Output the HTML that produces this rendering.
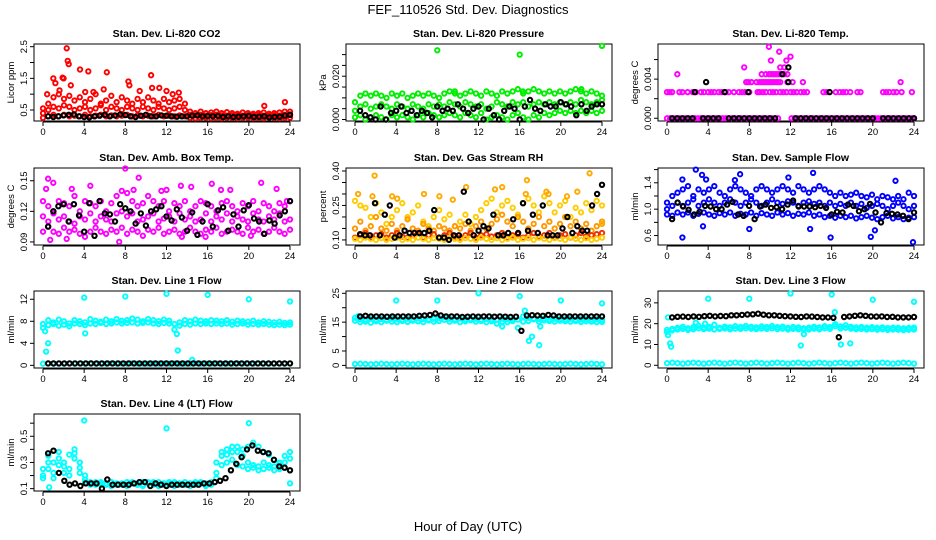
<!DOCTYPE html>
<html><head><meta charset="utf-8"><style>
html,body{margin:0;padding:0;background:#fff;}
svg{display:block;font-family:"Liberation Sans",Arial,sans-serif;}
</style></head><body>
<svg id="chart" width="936" height="540" viewBox="0 0 936 540">
<text x="468" y="14" text-anchor="middle" font-size="13">FEF_110526  Std. Dev. Diagnostics</text>
<text x="468" y="531" text-anchor="middle" font-size="13">Hour of Day (UTC)</text>
</svg>
<script>
// ---------- DATA ----------
const xTicks = [0,4,8,12,16,20,24];
const panelTitles = ["Stan. Dev. Li-820 CO2","Stan. Dev. Li-820 Pressure","Stan. Dev. Li-820 Temp.","Stan. Dev. Amb. Box Temp.","Stan. Dev. Gas Stream RH","Stan. Dev. Sample Flow","Stan. Dev. Line 1 Flow","Stan. Dev. Line 2 Flow","Stan. Dev. Line 3 Flow","Stan. Dev. Line 4 (LT) Flow"];
const yTitles = ["Licor ppm","kPa","degrees C","degrees C","percent","ml/min","ml/min","ml/min","ml/min","ml/min"];
const yRanges = [[0.153,2.585],[-0.0007,0.0349],[-0.00028,0.00759],[0.087,0.1625],[0.078,0.413],[0.457,1.624],[-0.48,13.5],[-0.9,25.8],[-1.3,35.7],[0.082,0.67]];
const yTickVals = [[0.5,1,1.5,2,2.5],[0,0.005,0.01,0.015,0.02,0.025,0.03],[0,0.002,0.004,0.006],[0.09,0.12,0.15],[0.1,0.15,0.2,0.25,0.3,0.35,0.4],[0.6,0.8,1.0,1.2,1.4,1.6],[0,4,8,12],[0,5,10,15,20,25],[0,10,20,30],[0.1,0.2,0.3,0.4,0.5,0.6]];
const yTickLabels = [["0.5","","1.5","","2.5"],["0.000","","","","0.020","",""],["0.000","","0.004",""],["0.09","0.12","0.15"],["0.10","","","0.25","","","0.40"],["0.6","","1.0","","1.4",""],["0","4","8","12"],["0","5","","15","","25"],["0","10","20","30"],["0.1","","0.3","","0.5",""]];

const co2Hi=[0.55,0.7,0.9,1.0,0.85,0.95,0.8,0.9,0.75,0.85,1.0,0.7,0.8,0.95,0.75,0.9,0.8,0.7,0.85,0.75,0.9,0.8,0.7,0.85,0.75,0.8,0.85,0.7,0.45,0.4,0.45,0.4,0.42,0.45,0.4,0.43,0.4,0.38,0.42,0.4,0.38,0.4,0.42,0.38,0.4,0.42,0.45,0.45];
const co2Mid=[0.4,0.5,0.6,0.55,0.65,0.6,0.5,0.55,0.6,0.5,0.55,0.65,0.5,0.6,0.55,0.5,0.6,0.55,0.5,0.6,0.55,0.5,0.6,0.55,0.5,0.55,0.6,0.5,0.35,0.33,0.35,0.32,0.34,0.35,0.33,0.32,0.34,0.33,0.32,0.34,0.33,0.35,0.32,0.33,0.34,0.32,0.35,0.36];
const co2Lo=[0.25,0.3,0.35,0.3,0.35,0.3,0.32,0.3,0.35,0.3,0.32,0.35,0.3,0.33,0.3,0.32,0.35,0.3,0.33,0.3,0.32,0.3,0.35,0.3,0.32,0.3,0.33,0.3,0.25,0.24,0.25,0.26,0.24,0.25,0.24,0.26,0.25,0.24,0.25,0.26,0.24,0.25,0.24,0.26,0.25,0.24,0.25,0.26];
const co2OutH=[2.3,2.4,2.5,1.9,2,3.6,4.4,6.2,1,1.2,0.4,1.6,2.7,8.3,8.4,10.5,10.6,11.3,9.4,12,12.6,13.2,5.9,21.5,23.5,4.9,4.1];
const co2OutV=[2.45,2.05,1.95,1.52,1.5,1.78,1.72,1.69,1.5,1.35,1.0,1.12,1.28,1.4,1.28,1.6,1.2,1.2,1.1,1.1,1.0,1.05,1.15,0.63,0.75,1.07,1.07];
const co2Mean=[0.3,0.28,0.3,0.33,0.35,0.36,0.3,0.28,0.27,0.3,0.32,0.35,0.3,0.33,0.36,0.34,0.3,0.28,0.32,0.35,0.3,0.3,0.33,0.32,0.3,0.29,0.3,0.3,0.32,0.33,0.3,0.31,0.3,0.31,0.28,0.3,0.28,0.29,0.3,0.31,0.28,0.29,0.3,0.27,0.28,0.29,0.32,0.35];
const presHi=[0.008,0.011,0.012,0.011,0.012,0.011,0.010,0.012,0.011,0.012,0.010,0.011,0.012,0.011,0.012,0.011,0.010,0.012,0.013,0.012,0.011,0.012,0.013,0.012,0.011,0.013,0.012,0.011,0.013,0.012,0.013,0.014,0.012,0.013,0.014,0.013,0.012,0.013,0.012,0.013,0.012,0.013,0.014,0.013,0.012,0.013,0.012,0.011];
const presMid=[0.004,0.006,0.007,0.005,0.006,0.007,0.006,0.005,0.007,0.006,0.005,0.007,0.006,0.005,0.007,0.006,0.007,0.006,0.008,0.007,0.006,0.008,0.007,0.006,0.007,0.005,0.006,0.008,0.007,0.006,0.008,0.007,0.008,0.006,0.007,0.008,0.007,0.008,0.007,0.008,0.007,0.008,0.007,0.009,0.008,0.007,0.008,0.009];
const presLo=[0.001,0.002,0.0,0.001,0.002,0.001,0.0,0.002,0.001,0.002,0.001,0.0,0.002,0.001,0.003,0.002,0.001,0.002,0.003,0.002,0.001,0.003,0.002,0.001,0.003,0.0,0.001,0.002,0.001,0.0,0.002,0.003,0.001,0.0,0.002,0.001,0.003,0.002,0.003,0.004,0.003,0.004,0.003,0.004,0.003,0.004,0.003,0.004];
const presOutH=[8,16,24,9.7,16.3,22];
const presOutV=[0.032,0.030,0.034,0.013,0.013,0.014];
const presMean=[0.004,0.002,0.001,0.0,0.006,0.0,0.003,0.004,0.006,0.003,0.004,0.002,0.004,0.003,0.001,0.006,0.004,0.005,0.004,0.007,0.005,0.003,0.005,0.006,0.0,0.005,0.002,0.0,0.004,0.006,0.005,0.0,0.006,0.009,0.005,0.004,0.007,0.006,0.006,0.008,0.007,0.006,0.002,0.007,0.004,0.006,0.007,0.007];
const tempZeroH=[0,0.3,0.6,0.9,1.2,1.5,1.8,2.1,2.4,2.7,3,3.3,3.6,3.9,4.2,4.5,4.8,5.1,5.4,5.7,6,6.3,6.6,6.9,7.2,7.5,7.8,8.1,8.4,8.7,9,9.3,9.6,9.9,10.2,10.5,10.8,12.1,12.4,12.7,13,13.3,13.6,13.9,14.2,14.5,14.8,15.1,15.4,15.7,16,16.3,16.6,16.9,17.2,17.5,17.8,18.1,18.4,18.7,19,19.3,19.6,19.9,20.2,20.5,20.8,21.1,21.4,21.7,22,22.3,22.6,22.9,23.2,23.5,23.8,24];
const tempLvlAH=[0,0.25,0.5,1.2,1.5,2,2.5,2.8,3.3,3.6,4,4.3,4.6,5,5.3,5.7,6,6.5,7,7.3,7.6,8,8.8,9,9.3,9.6,10,10.3,10.6,11,11.3,11.6,12,12.3,12.6,13,13.3,13.6,15.2,15.5,16.4,16.8,17.1,17.4,17.8,18.5,18.8,21,21.3,21.6,22,22.3,22.8,23.8];
const tempLvlBH=[7.7,7.9,8.2,8.7,9,9.2,9.4,9.6,9.8,10,10.2,10.4,10.6,10.8,11,11.7,12.2,13.2,22.7];
const tempLvlCH=[9.2,9.6,9.9,10.1,10.3,10.5,10.7,10.9,11.1,11.4,11.7];
const tempLevels=[0.0,0.00267,0.0037,0.0045];
const tempOutH=[1,7.5,11,11.4,10.1,11.6,10.9,9.9,12];
const tempOutV=[0.0045,0.0052,0.0052,0.0052,0.0059,0.0059,0.0068,0.0073,0.0063];
const tempMeanH=[0.5,1,1.5,2,2.5,3.5,4,4.5,5,6,6.5,7,7.5,8,8.5,9,9.5,10,10.5,12.5,13,13.5,14,14.5,15,15.5,16,16.5,17,17.5,18,18.5,19,19.5,20,21,21.5,22,22.5,23,23.5,24,3.8,2.7,5.6,7.9,11.2,11.8,11.8,15.8];
const tempMeanV=[0,0,0,0,0,0,0,0,0,0,0,0,0,0,0,0,0,0,0,0,0,0,0,0,0,0,0,0,0,0,0,0,0,0,0,0,0,0,0,0,0,0,0.0037,0.00267,0.00267,0.00267,0.0045,0.0037,0.0052,0.00267];
const abHi=[0.13,0.125,0.12,0.13,0.128,0.125,0.135,0.12,0.13,0.128,0.125,0.13,0.12,0.128,0.135,0.14,0.138,0.13,0.125,0.128,0.135,0.13,0.125,0.13,0.12,0.128,0.125,0.13,0.12,0.125,0.13,0.128,0.125,0.12,0.128,0.13,0.125,0.12,0.128,0.125,0.13,0.12,0.128,0.125,0.12,0.128,0.125,0.13];
const abMid=[0.115,0.11,0.118,0.112,0.115,0.11,0.108,0.115,0.112,0.118,0.11,0.115,0.112,0.11,0.118,0.12,0.115,0.118,0.11,0.112,0.115,0.118,0.11,0.113,0.115,0.11,0.118,0.112,0.115,0.11,0.112,0.118,0.11,0.115,0.112,0.118,0.11,0.115,0.112,0.11,0.118,0.112,0.11,0.115,0.112,0.118,0.11,0.112];
const abLo=[0.1,0.105,0.1,0.098,0.104,0.1,0.102,0.098,0.095,0.1,0.104,0.1,0.098,0.102,0.1,0.104,0.098,0.102,0.1,0.096,0.102,0.1,0.104,0.098,0.1,0.102,0.098,0.1,0.104,0.1,0.098,0.102,0.1,0.104,0.098,0.1,0.102,0.1,0.098,0.104,0.1,0.102,0.098,0.1,0.104,0.1,0.098,0.102];
const abOutH=[0.3,0.5,1,0.7,2.3,2.8,4.6,7.4,8,8.8,9.3,11.5,12,13.4,14.4,16.4,17.3,18.2,21.2,22.7,13.5,15.8,20.2,23.7];
const abOutV=[0.142,0.152,0.148,0.092,0.093,0.142,0.145,0.09,0.162,0.141,0.153,0.14,0.141,0.145,0.144,0.147,0.141,0.141,0.148,0.142,0.095,0.095,0.096,0.13];
const abMean=[0.105,0.12,0.125,0.127,0.11,0.127,0.116,0.1,0.128,0.096,0.13,0.118,0.117,0.11,0.127,0.123,0.12,0.108,0.118,0.106,0.12,0.122,0.125,0.115,0.111,0.122,0.114,0.101,0.119,0.097,0.11,0.127,0.105,0.121,0.124,0.101,0.117,0.105,0.121,0.126,0.113,0.11,0.098,0.111,0.108,0.116,0.12,0.13];
const rhLo=[0.11,0.12,0.13,0.11,0.12,0.125,0.11,0.12,0.13,0.115,0.11,0.12,0.13,0.11,0.12,0.125,0.11,0.12,0.13,0.115,0.11,0.12,0.13,0.11,0.12,0.125,0.115,0.12,0.13,0.11,0.12,0.125,0.11,0.12,0.13,0.115,0.12,0.13,0.11,0.12,0.125,0.11,0.12,0.13,0.115,0.12,0.125,0.13];
const rhLo2=[0.105,0.1,0.11,0.105,0.1,0.108,0.1,0.105,0.11,0.1,0.105,0.1,0.11,0.105,0.1,0.108,0.105,0.1,0.11,0.105,0.1,0.108,0.105,0.1,0.11,0.105,0.1,0.108,0.1,0.105,0.11,0.1,0.105,0.108,0.1,0.11,0.105,0.1,0.108,0.105,0.1,0.11,0.105,0.1,0.108,0.1,0.105,0.11];
const rhHi=[0.27,0.25,0.24,0.2,0.26,0.22,0.17,0.2,0.23,0.26,0.2,0.22,0.25,0.18,0.16,0.2,0.23,0.19,0.21,0.16,0.18,0.21,0.17,0.2,0.23,0.26,0.28,0.22,0.25,0.27,0.24,0.21,0.26,0.28,0.25,0.22,0.29,0.26,0.22,0.25,0.27,0.2,0.24,0.22,0.26,0.23,0.27,0.25];
const rhMid=[0.15,0.18,0.14,0.16,0.2,0.15,0.14,0.17,0.14,0.16,0.19,0.15,0.14,0.17,0.15,0.14,0.16,0.15,0.14,0.16,0.15,0.17,0.14,0.16,0.18,0.15,0.17,0.19,0.21,0.18,0.16,0.2,0.18,0.15,0.17,0.2,0.16,0.18,0.15,0.17,0.2,0.16,0.18,0.15,0.17,0.14,0.16,0.18];
const rhOutH=[0.3,1.7,1.9,3.6,4.1,6.7,8.2,9.5,10.8,13.6,14.3,16.7,16.6,18.6,18.8,20.6,21.6,22.8,24];
const rhOutV=[0.3,0.29,0.38,0.29,0.28,0.3,0.29,0.275,0.33,0.32,0.33,0.36,0.3,0.31,0.3,0.29,0.31,0.39,0.17];
const rhMean=[0.125,0.12,0.12,0.26,0.12,0.21,0.25,0.11,0.12,0.14,0.13,0.13,0.13,0.13,0.14,0.23,0.11,0.11,0.1,0.12,0.12,0.31,0.18,0.12,0.14,0.16,0.15,0.21,0.12,0.12,0.13,0.19,0.13,0.26,0.14,0.21,0.13,0.25,0.12,0.12,0.12,0.15,0.2,0.13,0.16,0.14,0.14,0.25,0.3,0.34];
const sfHi=[1.1,1.2,1.25,1.3,1.35,1.2,1.3,1.25,1.3,1.35,1.25,1.2,1.3,1.35,1.3,1.25,1.2,1.3,1.35,1.3,1.25,1.3,1.35,1.3,1.25,1.35,1.3,1.25,1.3,1.35,1.3,1.25,1.2,1.25,1.2,1.22,1.25,1.2,1.18,1.22,1.15,1.2,1.18,1.15,1.2,1.15,1.25,1.2];
const sfMid=[1.0,1.05,1.1,1.05,1.1,1.15,1.05,1.1,1.15,1.1,1.05,1.1,1.15,1.1,1.05,1.1,1.15,1.1,1.05,1.1,1.15,1.1,1.08,1.12,1.1,1.05,1.1,1.12,1.08,1.1,1.05,1.1,1.05,1.08,1.05,1.1,1.05,1.08,1.02,1.05,1.08,1.05,1.0,1.05,1.1,1.05,1.0,1.05];
const sfLo=[0.92,0.9,0.95,0.92,0.95,0.9,0.93,0.95,0.92,0.9,0.94,0.92,0.95,0.9,0.93,0.92,0.95,0.9,0.94,0.92,0.9,0.95,0.92,0.94,0.9,0.93,0.92,0.95,0.9,0.92,0.88,0.9,0.87,0.9,0.88,0.9,0.86,0.88,0.9,0.87,0.85,0.88,0.9,0.86,0.88,0.85,0.87,0.88];
const sfOutH=[1.5,1.5,2.8,3.5,3.4,3.8,7.1,6.6,8,11.8,13.9,14.2,15.9,20.2,22.2,23.9,19.8];
const sfOutV=[0.57,1.45,1.6,0.74,1.52,1.45,1.53,1.44,0.7,1.48,0.7,1.55,0.57,0.68,1.43,0.5,0.58];
const sfMean=[0.85,1.1,1.04,0.99,0.92,0.96,1.05,1.04,1.0,1.0,1.07,1.11,0.92,0.9,1.05,0.85,1.04,1.07,1.02,1.03,1.0,1.07,1.13,1.04,1.04,1.04,1.03,1.05,1.02,0.92,0.96,0.95,1.07,1.05,0.97,1.0,1.08,0.95,0.8,0.94,0.93,0.92,0.9,0.85,0.95];
const l1Band=[7.5,8.2,7.8,8.3,8,7.6,8.2,8,7.8,8.4,8.1,7.9,8.3,8,8.4,8.1,8.2,8.5,8.3,8,8.4,8.2,8,8.3,8.1,7.5,7.8,8.2,8,8.3,8.1,8,8.2,8.1,8,8.2,7.9,8.1,8,7.9,8.1,7.8,8,7.9,7.8,7.9,7.7,7.8];
const l1Band2=[6.8,7.3,7.5,7.2,7.4,7.1,7.6,7.5,7.3,7.6,7.5,7.7,7.5,7.6,7.8,7.6,7.7,7.8,7.6,7.7,7.8,7.6,7.5,7.7,7.6,6.5,7.2,7.5,7.4,7.6,7.5,7.6,7.5,7.6,7.5,7.6,7.4,7.5,7.6,7.4,7.5,7.4,7.5,7.4,7.3,7.4,7.3,7.4];
const l1Base=[0.3,0.35,0.3,0.32,0.3,0.35,0.3,0.33,0.3,0.35,0.3,0.32,0.3,0.35,0.3,0.33,0.3,0.35,0.3,0.32,0.3,0.35,0.3,0.33,0.3,0.35,0.3,0.32,0.3,0.35,0.3,0.33,0.3,0.35,0.3,0.32,0.3,0.35,0.3,0.33,0.3,0.35,0.3,0.32,0.3,0.35,0.3,0.33];
const l1OutH=[0.2,0.5,0.3,4,8,12,16,20,24,4.1,13,13.1,14.5];
const l1OutV=[6.2,4,2.5,12.3,12.5,13,12.8,12,11.6,5.8,5.7,2.7,1];
const l1Mean=[0.35,0.35,0.35,0.35,0.35,0.35,0.35,0.35,0.35,0.35,0.35,0.35,0.35,0.35,0.35,0.35,0.35,0.35,0.35,0.35,0.35,0.35,0.35,0.35,0.35,0.35,0.35,0.35,0.35,0.35,0.35,0.35,0.35,0.35,0.35,0.35,0.35,0.35,0.35,0.35,0.35,0.35,0.35,0.35,0.35,0.35];
const l2Band=[15.5,15,15.2,14.8,15.3,15,15.5,15.2,15,15.4,15.1,15.5,15.3,15,15.6,15.2,15.4,15.8,15.2,15.5,15,15.3,15.6,15.2,15.4,15,15.3,14.5,15.2,15,15.4,13,15.2,15.4,16,15.2,15.6,15.4,15.2,15.5,15.3,15.2,15.4,15.1,15.3,15.2,15,15.1];
const l2Band2=[16.5,16,15.8,16.2,15.9,16.1,15.8,16.2,16,15.9,16.2,16,16.3,16.1,15.9,16.2,16.4,16.8,16.2,16,16.3,16,16.1,16.2,15.9,16.1,16,15.8,16.2,16,16.1,15.9,17,16.5,16.2,16.1,16.3,16,16.2,16.1,16,16.2,15.9,16,16.1,15.9,16,15.8];
const l2Base=[0.5,0.6,0.5,0.4,0.5,0.6,0.5,0.4,0.5,0.6,0.5,0.4,0.5,0.6,0.5,0.4,0.5,0.6,0.5,0.4,0.5,0.6,0.5,0.4,0.5,0.6,0.5,0.4,0.5,0.6,0.5,0.4,0.5,0.6,0.5,0.4,0.5,0.6,0.5,0.4,0.5,0.6,0.5,0.4,0.5,0.6,0.5,0.4];
const l2OutH=[4,8,12,16,20,24,16.9,17.2,17.9,18,14.3,16.5,0.3];
const l2OutV=[22.5,22.5,25,24,22.5,21.5,8.5,10,7,13.5,13.5,19,17];
const l2Mean=[17,17.2,17,17,17,16.9,17,17,17,17,17,17.2,17.3,17.5,18,17.3,17,17,17,16.8,16.9,17,16.9,17,17,16.9,17,16.9,16.8,16.9,12,17.3,17.4,17.3,17.2,17.5,17.3,17,17,17,17,17,17,17,17,17];
const l3Band=[16,17.5,18,18.5,17.8,18.3,19,18.2,18.5,19.5,18,18.6,18.2,18.8,18.4,18.9,18.5,18.2,18.7,18.4,18.9,18.3,18.6,18,18.4,18.2,17.8,18.1,18.5,18.2,18.8,18.4,19.8,18.7,19.2,18.5,18.2,18.4,18.1,18.3,18,18.2,17.9,18.1,18,17.8,18,18.1];
const l3Band2=[17,16.8,17.2,17.5,17,17.3,17.8,17.4,17.6,17.2,17.5,17.7,17.3,17.6,17.5,17.8,17.6,17.4,17.7,17.5,17.8,17.4,17.6,17.2,17.5,17.3,17,17.2,17.6,17.3,17.8,17.5,18.8,17.7,18,17.6,17.3,17.5,17.2,17.4,17.1,17.3,17,17.2,17.1,16.9,17.1,17.2];
const l3Base=[1,1.3,1,0.8,1,1.3,1,0.8,1,1.3,1,0.8,1,1.3,1,0.8,1,1.3,1,0.8,1,1.3,1,0.8,1,1.3,1,0.8,1,1.3,1,0.8,1,1.3,1,0.8,1,1.3,1,0.8,1,1.3,1,0.8,1,1.3,1,0.8];
const l3OutH=[0.1,0.3,0.4,0.1,4,8,12,16,20,24,13,13.3,16.9,17.8,16.3,3.7,2.8];
const l3OutV=[14.5,10.5,9,23,32,32,34.5,34,31.5,30.5,9.5,15,10,10.5,25.5,20,20.5];
const l3Mean=[23,23.3,23.4,23.2,23.5,23.3,23.6,23.8,23.5,23.7,23.6,24,24,24.2,24.4,24.5,24.8,24.3,24,24,23.8,23.6,23.5,23.3,23.2,23.5,23.4,23.2,23,23,22.8,13.5,23.2,23.5,23.8,24,23.8,23.5,23.4,23.5,23.2,23.3,23,23,23,23.2];
const l4A=[0.25,0.35,0.3,0.38,0.22,0.36,0.4,0.3,0.2,0.15,0.14,0.15,0.14,0.15,0.13,0.14,0.15,0.14,0.13,0.15,0.14,0.15,0.13,0.14,0.15,0.14,0.13,0.15,0.14,0.15,0.14,0.13,0.15,0.22,0.35,0.4,0.42,0.38,0.4,0.42,0.45,0.42,0.38,0.36,0.32,0.3,0.35,0.33];
const l4B=[0.2,0.25,0.18,0.28,0.3,0.25,0.33,0.22,0.17,0.13,0.13,0.14,0.13,0.12,0.14,0.13,0.12,0.14,0.13,0.12,0.14,0.13,0.12,0.14,0.13,0.12,0.14,0.13,0.12,0.13,0.14,0.12,0.14,0.18,0.28,0.3,0.32,0.28,0.27,0.25,0.26,0.24,0.25,0.26,0.24,0.25,0.26,0.24];
const l4C=[0.18,0.3,0.22,0.33,0.27,0.2,0.37,0.26,0.15,0.14,0.15,0.13,0.14,0.15,0.13,0.14,0.13,0.15,0.14,0.13,0.15,0.14,0.15,0.13,0.14,0.15,0.14,0.13,0.14,0.14,0.15,0.14,0.13,0.3,0.38,0.36,0.38,0.42,0.35,0.3,0.28,0.27,0.3,0.28,0.27,0.29,0.3,0.38];
const l4OutH=[4,12,20,24,0.6];
const l4OutV=[0.62,0.56,0.6,0.14,0.11];
const l4Mean=[0.37,0.39,0.22,0.16,0.13,0.14,0.12,0.14,0.14,0.14,0.10,0.17,0.13,0.13,0.13,0.13,0.14,0.15,0.15,0.12,0.14,0.13,0.12,0.13,0.13,0.13,0.13,0.13,0.13,0.14,0.14,0.15,0.16,0.18,0.24,0.29,0.34,0.40,0.43,0.39,0.38,0.37,0.32,0.27,0.26,0.24];

// ---------- LAYOUT ----------
const NS="http://www.w3.org/2000/svg";
const svg=document.getElementById('chart');
const colX0=[43,355,667], SPAN=247, rowTop=[44,168,291,414], BOXH=77;
function mk(tag,attrs,parent){const e=document.createElementNS(NS,tag);for(const k in attrs)e.setAttribute(k,attrs[k]);(parent||svg).appendChild(e);return e;}

const panels=[];
for(let p=0;p<10;p++){
  const col=p%3,row=Math.floor(p/3);
  const x0=colX0[col], top=rowTop[row], bottom=top+BOXH;
  const [ymin,ymax]=yRanges[p];
  const xs=h=>x0+h/24*SPAN;
  const ys=v=>bottom-(v-ymin)/(ymax-ymin)*BOXH;
  const g=mk('g',{});
  
  
  const box=mk('rect',{x:x0-9,y:top,width:SPAN+19,height:BOXH,fill:'none',stroke:'#000','stroke-width':1},g);
  
  
  const t=mk('text',{x:x0+SPAN/2,y:top-7,'text-anchor':'middle','font-size':10.5,'font-weight':'bold'},g);
  t.textContent=panelTitles[p];
  
  
  const xa=mk('g',{},g);
  
  
  mk('line',{x1:xs(0),x2:xs(24),y1:bottom+1,y2:bottom+1,stroke:'#000'},xa);
  xTicks.forEach(v=>{
    mk('line',{x1:xs(v),x2:xs(v),y1:bottom+1,y2:bottom+5,stroke:'#000'},xa);
    const l=mk('text',{x:xs(v),y:bottom+14,'text-anchor':'middle','font-size':9.5},xa);
    l.textContent=v;
    
    
  });
  const ya=mk('g',{},g);
  
  
  const tv=yTickVals[p];
  const ax=x0-9;
  mk('line',{x1:ax,x2:ax,y1:ys(tv[0]),y2:ys(tv[tv.length-1]),stroke:'#000'},ya);
  tv.forEach((v,i)=>{
    mk('line',{x1:ax-4,x2:ax,y1:ys(v),y2:ys(v),stroke:'#000'},ya);
    if(yTickLabels[p][i]){
      const l=mk('text',{x:0,y:0,'text-anchor':'middle','font-size':9.5,transform:`translate(${ax-7},${ys(v)}) rotate(-90)`},ya);
      l.textContent=yTickLabels[p][i];
      
      
    }
  });
  const yt=mk('text',{x:0,y:0,'text-anchor':'middle','font-size':9.5,transform:`translate(${ax-20},${top+BOXH/2}) rotate(-90)`},g);
  yt.textContent=yTitles[p];
  
  
  const mg=mk('g',{},g);
  
  
  panels.push({xs,ys,g:mg});
}
function pts(p,hours,vals,color,sw,name){
  const P=panels[p];
  for(let i=0;i<vals.length;i++){
    const c=mk('circle',{cx:P.xs(hours[i]).toFixed(1),cy:P.ys(vals[i]).toFixed(1),r:2.2,fill:'none',stroke:color,'stroke-width':sw},P.g);
    
    
  }
}
function series(p,vals,color,sw,name){
  const hrs=vals.map((_,i)=>i*24/(vals.length-1));
  pts(p,hrs,vals,color,sw,name);
}
function means(p,vals,name){
  const hrs=vals.map((_,i)=>0.5+i*23.5/(vals.length-1));
  pts(p,hrs,vals,'#000',2,name);
}
const lvl=(arr,v)=>arr.map(()=>v);
const W=1.9;

series(0,co2Hi,'#ff0000',W,'co2-point');series(0,co2Mid,'#ff0000',W,'co2-point');series(0,co2Lo,'#ff0000',W,'co2-point');
pts(0,co2OutH,co2OutV,'#ff0000',W,'co2-outlier');
means(0,co2Mean,'co2-hourly-mean');
series(1,presHi,'#00ee00',W,'pressure-point');series(1,presMid,'#00ee00',W,'pressure-point');series(1,presLo,'#00ee00',W,'pressure-point');
pts(1,presOutH,presOutV,'#00ee00',W,'pressure-outlier');
means(1,presMean,'pressure-hourly-mean');
pts(2,tempZeroH,lvl(tempZeroH,tempLevels[0]),'#ff00ff',W,'temp-point');
pts(2,tempLvlAH,lvl(tempLvlAH,tempLevels[1]),'#ff00ff',W,'temp-point');
pts(2,tempLvlBH,lvl(tempLvlBH,tempLevels[2]),'#ff00ff',W,'temp-point');
pts(2,tempLvlCH,lvl(tempLvlCH,tempLevels[3]),'#ff00ff',W,'temp-point');
pts(2,tempOutH,tempOutV,'#ff00ff',W,'temp-outlier');
pts(2,tempMeanH,tempMeanV,'#000',2,'temp-hourly-mean');
series(3,abHi,'#ff00ff',W,'box-temp-point');series(3,abMid,'#ff00ff',W,'box-temp-point');series(3,abLo,'#ff00ff',W,'box-temp-point');
pts(3,abOutH,abOutV,'#ff00ff',W,'box-temp-outlier');
means(3,abMean,'box-temp-hourly-mean');
series(4,rhHi,'#ffcc00',W,'rh-point');series(4,rhMid,'#ff9900',W,'rh-point');
series(4,rhLo,'#ee3300',W,'rh-point');series(4,rhLo2,'#ffcc00',W,'rh-point');
pts(4,rhOutH,rhOutV,'#ffaa00',W,'rh-outlier');
means(4,rhMean,'rh-hourly-mean');
series(5,sfHi,'#0000ff',W,'sample-flow-point');series(5,sfMid,'#0000ff',W,'sample-flow-point');series(5,sfLo,'#0000ff',W,'sample-flow-point');
pts(5,sfOutH,sfOutV,'#0000ff',W,'sample-flow-outlier');
means(5,sfMean,'sample-flow-hourly-mean');
const cy='#00ffff';
series(6,l1Band,cy,W,'line1-point');series(6,l1Band2,cy,W,'line1-point');series(6,l1Base,cy,W,'line1-point');
pts(6,l1OutH,l1OutV,cy,W,'line1-outlier');
means(6,l1Mean,'line1-hourly-mean');
series(7,l2Band,cy,W,'line2-point');series(7,l2Band2,cy,W,'line2-point');series(7,l2Base,cy,W,'line2-point');
pts(7,l2OutH,l2OutV,cy,W,'line2-outlier');
means(7,l2Mean,'line2-hourly-mean');
series(8,l3Band,cy,W,'line3-point');series(8,l3Band2,cy,W,'line3-point');series(8,l3Base,cy,W,'line3-point');
pts(8,l3OutH,l3OutV,cy,W,'line3-outlier');
means(8,l3Mean,'line3-hourly-mean');
series(9,l4A,cy,W,'line4-point');series(9,l4B,cy,W,'line4-point');series(9,l4C,cy,W,'line4-point');
pts(9,l4OutH,l4OutV,cy,W,'line4-outlier');
means(9,l4Mean,'line4-hourly-mean');
</script>
</body></html>
